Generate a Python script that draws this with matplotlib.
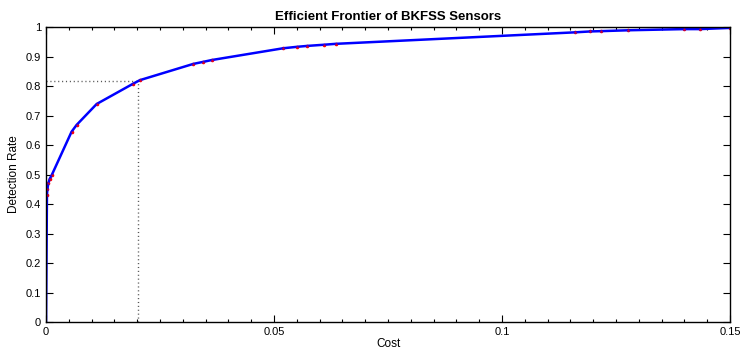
import matplotlib
matplotlib.use("Agg")
import matplotlib.pyplot as plt
from matplotlib.ticker import MultipleLocator, FixedLocator, FixedFormatter

plt.rcParams['font.family'] = ['Liberation Sans', 'DejaVu Sans']

cost = [0.0, 0.0002, 0.0003, 0.0005, 0.0008, 0.00125, 0.0056, 0.0067, 0.0111,
        0.019, 0.0206, 0.0323, 0.0345, 0.0363, 0.052, 0.0551, 0.0573, 0.061,
        0.0635, 0.116, 0.1193, 0.1216, 0.1277, 0.14, 0.1434, 0.15]
detection = [0.0, 0.43, 0.45, 0.47, 0.485, 0.498, 0.645, 0.668, 0.739,
             0.807, 0.820, 0.875, 0.882, 0.888, 0.928, 0.933, 0.936, 0.940,
             0.943, 0.982, 0.985, 0.986, 0.989, 0.993, 0.993, 0.997]
sel_cost = 0.0201
sel_det = 0.818

xticks = [0, 0.05, 0.1, 0.15]
xticklabels = ['0', '0.05', '0.1', '0.15']
yticks = [0, 0.1, 0.2, 0.3, 0.4, 0.5, 0.6, 0.7, 0.8, 0.9, 1.0]
yticklabels = ['0', '0.1', '0.2', '0.3', '0.4', '0.5', '0.6', '0.7', '0.8', '0.9', '1']

fig = plt.figure(figsize=(7.4, 3.51), dpi=100)
ax = fig.add_axes([0.0622, 0.0826, 0.9243, 0.8404])

ax.plot([0, sel_cost], [sel_det, sel_det], color='#555555', linestyle=(0, (0.8, 2.0)), linewidth=1)
ax.plot([sel_cost, sel_cost], [0, sel_det], color='#555555', linestyle=(0, (0.8, 2.0)), linewidth=1)
ax.plot(cost[1:], detection[1:], color='red', linestyle='none', marker='o', markersize=2.6,
        markeredgewidth=0)
ax.plot(cost, detection, color='blue', linewidth=1.8)
ax.plot(cost[1:], detection[1:], color='red', linestyle='none', marker='o', markersize=1.6,
        markeredgewidth=0, alpha=0.8)

ax.set_xlim(0, 0.15)
ax.set_ylim(0, 1)
ax.xaxis.set_major_locator(FixedLocator(xticks))
ax.xaxis.set_major_formatter(FixedFormatter(xticklabels))
ax.xaxis.set_minor_locator(MultipleLocator(0.005))
ax.yaxis.set_major_locator(FixedLocator(yticks))
ax.yaxis.set_major_formatter(FixedFormatter(yticklabels))
ax.tick_params(which='both', direction='in', top=True, right=True, labelsize=8, colors='black', width=0.8)
ax.tick_params(which='major', length=5)
ax.tick_params(which='minor', length=2.5)
for s in ax.spines.values():
    s.set_linewidth(1)

ax.set_xlabel('Cost', fontsize=8.5, labelpad=1)
ax.set_ylabel('Detection Rate', fontsize=8.5, labelpad=4)
ax.set_title('Efficient Frontier of BKFSS Sensors', fontsize=9.5, fontweight='bold', pad=5)

fig.savefig('out.png', dpi=100)
